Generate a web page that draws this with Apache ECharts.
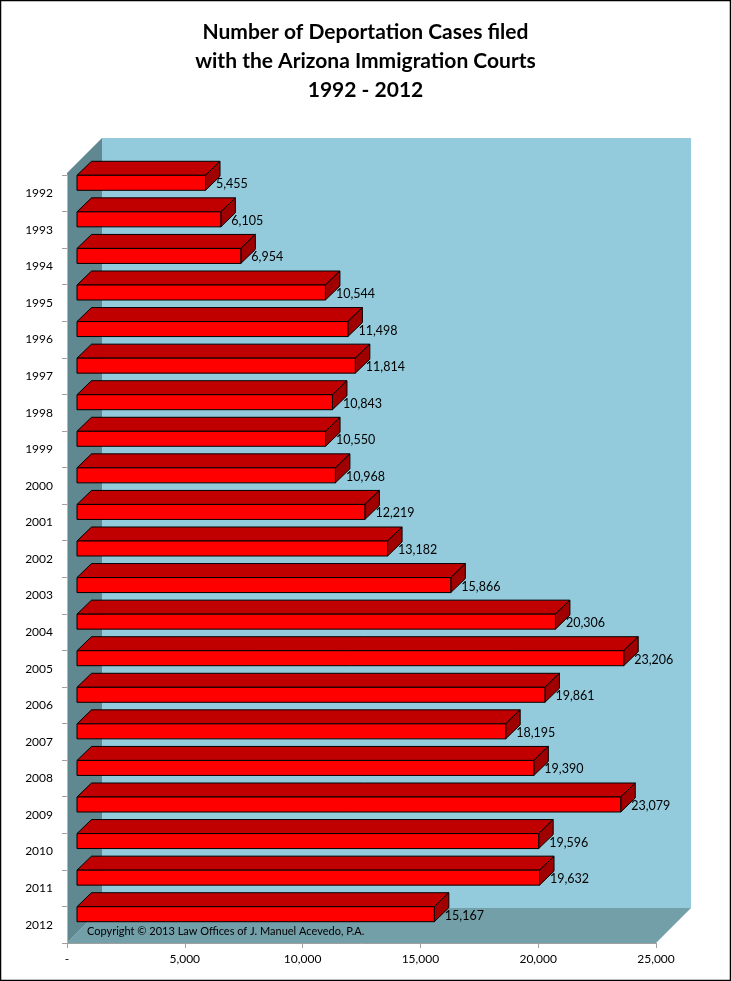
<!DOCTYPE html>
<html><head><meta charset="utf-8">
<script src="https://cdn.jsdelivr.net/npm/echarts@6/dist/echarts.min.js"></script>
<style>html,body{margin:0;padding:0;background:#fff}#c{width:731px;height:981px}</style>
</head><body><div id="c"></div>
<script>
const years = ['1992','1993','1994','1995','1996','1997','1998','1999','2000','2001','2002','2003','2004','2005','2006','2007','2008','2009','2010','2011','2012'];
const cases = [5455,6105,6954,10544,11498,11814,10843,10550,10968,12219,13182,15866,20306,23206,19861,18195,19390,23079,19596,19632,15167];
const xTickLabels = ['-','5,000','10,000','15,000','20,000','25,000'];
const titleLines = ['Number of Deportation Cases filed','with the Arizona Immigration Courts','1992 - 2012'];
const copyright = 'Copyright \u00A9 2013 Law Offices of J. Manuel Acevedo, P.A.';

const FONT = 'Lato';
const WALL_D = 35;      // depth of the 3D box (px)
const BAR_OFF = 10;     // bar front offset into depth
const BAR_D = 14.5;     // bar depth
const BAR_H = 15;       // bar front face height

function fmt(n){ return n.toString().replace(/\B(?=(\d{3})+(?!\d))/g, ','); }

const chart = echarts.init(document.getElementById('c'), null, {renderer:'canvas'});

function renderWalls(params, api){
  const cs = params.coordSys;
  const x0 = cs.x, y0 = cs.y, x1 = cs.x + cs.width, y1 = cs.y + cs.height;
  const d = WALL_D;
  return {type:'group', children:[
    {type:'polygon', shape:{points:[[x0+d, y0-2-d],[x1+d, y0-2-d],[x1+d, y1-d],[x0+d, y1-d]]}, style:{fill:'#93cbdc'}},
    {type:'polygon', shape:{points:[[x0, y1],[x1, y1],[x1+d, y1-d],[x0+d, y1-d]]}, style:{fill:'#739fa9'}},
    {type:'polygon', shape:{points:[[x0, y0-2],[x0+d, y0-2-d],[x0+d, y1-d],[x0, y1]]}, style:{fill:'#5f8891'}}
  ]};
}

function renderBar(params, api){
  const v = api.value(0), i = api.value(1);
  const p0 = api.coord([0, i]);
  const p1 = api.coord([v, i]);
  const xa = p0[0] + BAR_OFF, xb = p1[0] + BAR_OFF;
  const yc = p0[1] - BAR_OFF - 0.5;
  const yt = yc - BAR_H/2, yb = yc + BAR_H/2;
  const dx = BAR_D, dy = BAR_D - 0.5;
  const ls = {stroke:'#000', lineWidth:1};
  return {type:'group', children:[
    {type:'polygon', shape:{points:[[xa,yt],[xb,yt],[xb+dx,yt-dy],[xa+dx,yt-dy]]}, style:Object.assign({fill:'#c00000'}, ls)},
    {type:'polygon', shape:{points:[[xb,yt],[xb+dx,yt-dy],[xb+dx,yb-dy],[xb,yb]]}, style:Object.assign({fill:'#a00000'}, ls)},
    {type:'rect', shape:{x:xa, y:yt, width:xb-xa, height:BAR_H}, style:Object.assign({fill:'#ff0000'}, ls)},
    {type:'text', style:{x:xb+10.5, y:yc+1.5, text:fmt(v), fill:'#000', font:'12.5px ' + FONT, textAlign:'left', textVerticalAlign:'middle'}}
  ]};
}

const option = {
  animation:false,
  backgroundColor:'#fff',
  title:{
    text: titleLines.join('\n'),
    left:'center', top:13,
    textStyle:{fontFamily:FONT, fontSize:21, fontWeight:'bold', color:'#000', lineHeight:29}
  },
  grid:{left:67, right:75, top:175, bottom:38, containLabel:false},
  xAxis:{
    type:'value', min:0, max:25000, interval:5000, z:5,
    axisLine:{show:true, lineStyle:{color:'#a0a0a0', width:1}},
    axisTick:{show:true, length:5, lineStyle:{color:'#a0a0a0'}},
    splitLine:{show:false},
    axisLabel:{fontFamily:FONT, fontSize:12, color:'#000', margin:10, formatter:(val, idx)=>xTickLabels[idx]}
  },
  yAxis:{
    type:'category', data:years, inverse:true, z:5,
    axisLine:{show:true, lineStyle:{color:'#b4b4b4', width:1}},
    axisTick:{show:true, length:5, lineStyle:{color:'#a0a0a0'}},
    axisLabel:{fontFamily:FONT, fontSize:12, color:'#000', margin:14}
  },
  series:[
    {type:'custom', renderItem:renderWalls, data:[[0,0]], z:1, silent:true, encode:{x:0, y:1}},
    {type:'custom', renderItem:renderBar, data:cases.map((v,i)=>[v,i]), z:3, encode:{x:0, y:1}}
  ],
  graphic:[
    {type:'text', left:87, top:926, z:10, style:{text:copyright, fill:'#000', font:'11px ' + FONT}},
    {type:'rect', shape:{x:0.5, y:0.5, width:730, height:980}, z:20, style:{fill:'none', stroke:'#000', lineWidth:1.5}}
  ]
};
chart.setOption(option);
</script>
</body></html>
